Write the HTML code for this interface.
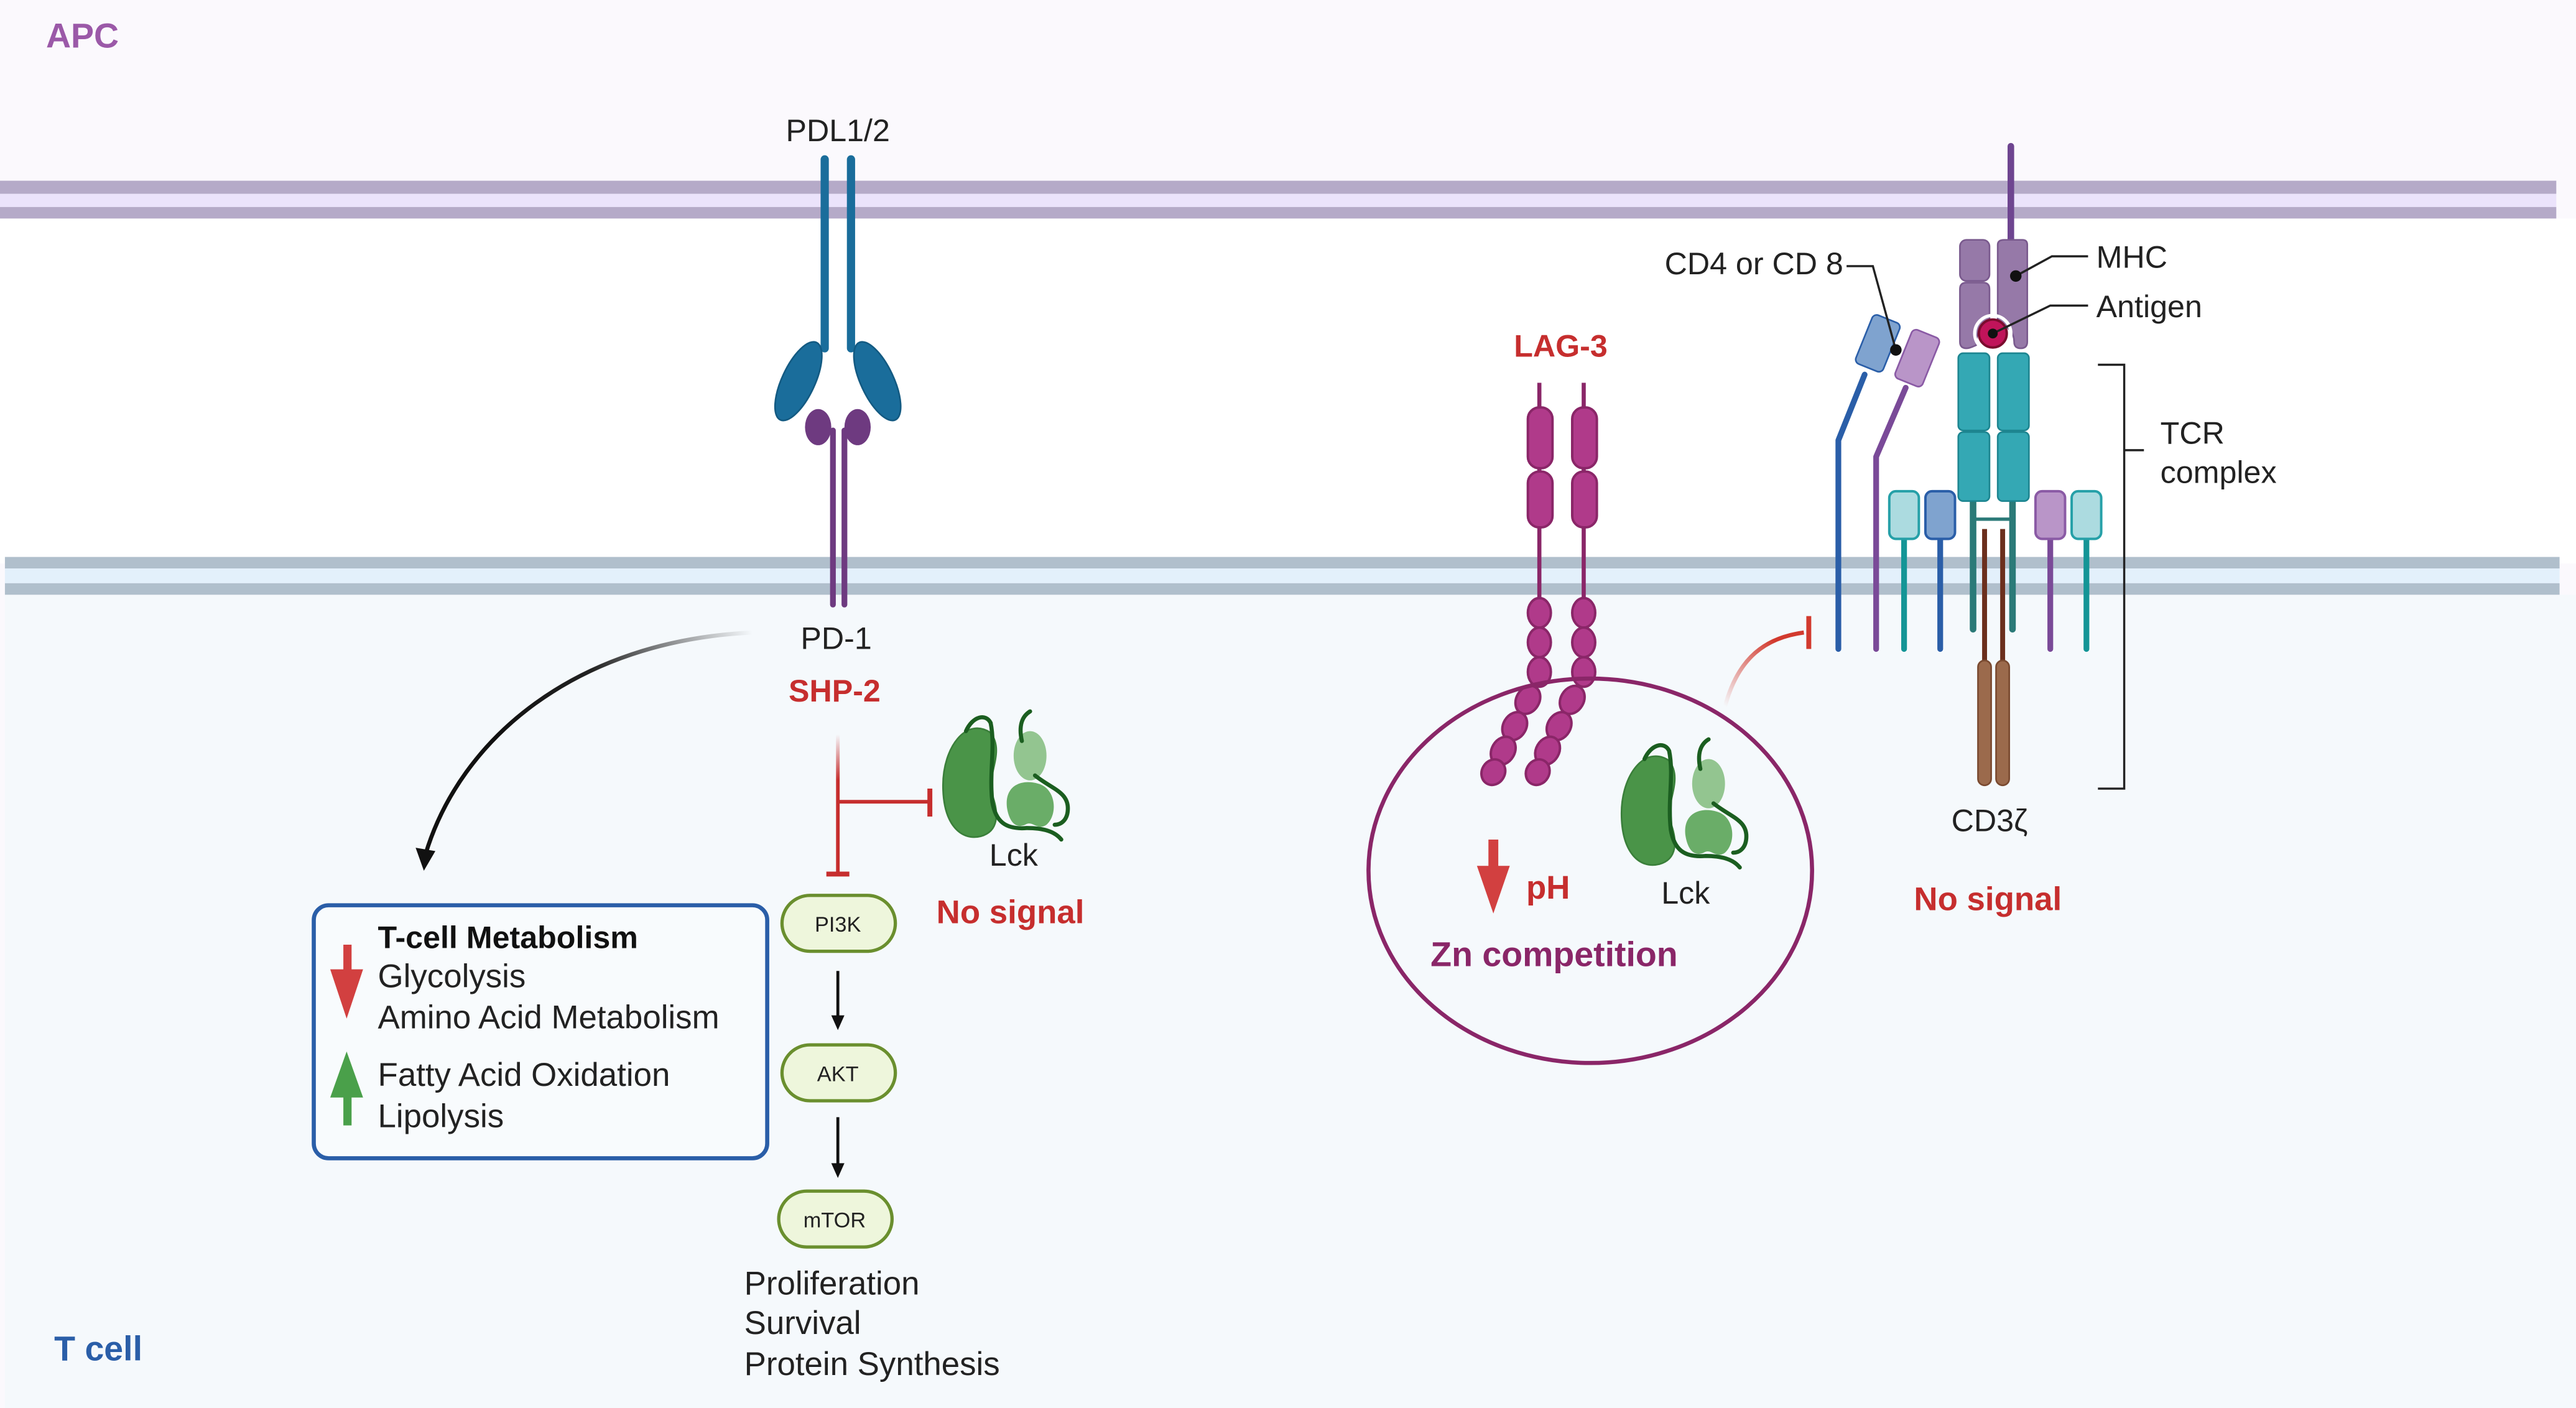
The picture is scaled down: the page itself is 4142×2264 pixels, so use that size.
<!DOCTYPE html>
<html><head><meta charset="utf-8"><style>
html,body{margin:0;padding:0;background:#fff}
svg{display:block}
text{font-family:"Liberation Sans",Arial,sans-serif}
</style></head><body>
<svg width="4142" height="2264" viewBox="0 0 1568 857" preserveAspectRatio="none" xmlns="http://www.w3.org/2000/svg">
<defs>
<linearGradient id="g1" gradientUnits="userSpaceOnUse" x1="458" y1="385" x2="300" y2="440"><stop offset="0" stop-color="#222" stop-opacity="0"/><stop offset="0.6" stop-color="#222"/><stop offset="1" stop-color="#111"/></linearGradient>
<linearGradient id="g2" gradientUnits="userSpaceOnUse" x1="0" y1="447" x2="0" y2="475"><stop offset="0" stop-color="#c62e2e" stop-opacity="0"/><stop offset="1" stop-color="#c62e2e"/></linearGradient>
<linearGradient id="g3" gradientUnits="userSpaceOnUse" x1="1050" y1="430" x2="1080" y2="390"><stop offset="0" stop-color="#d23a2e" stop-opacity="0"/><stop offset="1" stop-color="#d23a2e"/></linearGradient>
<g id="lck">
<path d="M603,446 C588,436 574,455 574,478 C574,502 585,512 597,509 C608,506 608,495 604,484 C600,472 612,458 603,446Z" fill="#4a9448" stroke="#3a7f3a" stroke-width="1"/>
<ellipse cx="627" cy="460" rx="10" ry="15" fill="#93c590"/>
<path d="M613,492 C611,478 622,474 632,477 C643,480 644,496 637,502 C631,506 629,499 624,502 C617,505 614,498 613,492Z" fill="#6aad68"/>
<path d="M588,445 C592,436 600,434 603,440 C606,455 602,470 604,488 C606,500 612,505 625,504 C635,504 642,506 646,511" fill="none" stroke="#1b5e20" stroke-width="2.5" stroke-linecap="round"/>
<path d="M622,451 C620,442 622,436 627,433" fill="none" stroke="#1b5e20" stroke-width="2.5" stroke-linecap="round"/>
<path d="M630,472 C640,480 650,482 650,492 C650,499 646,502 642,502" fill="none" stroke="#1b5e20" stroke-width="2.5" stroke-linecap="round"/>
</g>
</defs>
<rect x="0" y="0" width="1568" height="857" fill="#fbf9fd"/>
<rect x="0" y="133" width="1568" height="210" fill="#ffffff"/>
<rect x="3" y="362" width="1565" height="495" fill="#f5f9fc"/>
<rect x="0" y="110" width="1556" height="8" fill="#b5aac8"/>
<rect x="0" y="118" width="1556" height="8" fill="#ebe3fb"/>
<rect x="0" y="126" width="1556" height="7" fill="#b5aac8"/>
<rect x="3" y="339" width="1555" height="7" fill="#b0bfcc"/>
<rect x="3" y="346" width="1555" height="9" fill="#e3f0fb"/>
<rect x="3" y="355" width="1555" height="7" fill="#b0bfcc"/>

<text x="28" y="29" font-size="21" font-weight="bold" fill="#9b59a8">APC</text>
<text x="33" y="828" font-size="21" font-weight="bold" fill="#2a5ea8">T cell</text>

<text x="510" y="86" font-size="19" text-anchor="middle" fill="#222">PDL1/2</text>
<line x1="502" y1="97" x2="502" y2="212" stroke="#1a6d9b" stroke-width="5" stroke-linecap="round"/>
<line x1="518" y1="97" x2="518" y2="212" stroke="#1a6d9b" stroke-width="5" stroke-linecap="round"/>
<ellipse cx="486" cy="232" rx="10" ry="26" fill="#1a6d9b" stroke="#135a82" transform="rotate(25 486 232)"/>
<ellipse cx="534" cy="232" rx="10" ry="26" fill="#1a6d9b" stroke="#135a82" transform="rotate(-25 534 232)"/>
<ellipse cx="498" cy="260" rx="8" ry="11" fill="#6e3a80"/>
<ellipse cx="522" cy="260" rx="8" ry="11" fill="#6e3a80"/>
<line x1="507" y1="262" x2="507" y2="368" stroke="#6e3a80" stroke-width="3.5" stroke-linecap="round"/>
<line x1="514" y1="262" x2="514" y2="368" stroke="#6e3a80" stroke-width="3.5" stroke-linecap="round"/>
<text x="509" y="395" font-size="19" text-anchor="middle" fill="#222">PD-1</text>
<text x="508" y="427" font-size="19" font-weight="bold" text-anchor="middle" fill="#c62e2e">SHP-2</text>

<path d="M458,385 C350,390 280,450 259,520" fill="none" stroke="url(#g1)" stroke-width="2.5"/>
<path d="M253,516 L258,530 L265,518 Z" fill="#111"/>

<line x1="510" y1="447" x2="510" y2="532" stroke="url(#g2)" stroke-width="2.2"/>
<line x1="503" y1="532" x2="517" y2="532" stroke="#c62e2e" stroke-width="3"/>
<line x1="510" y1="488" x2="566" y2="488" stroke="#c62e2e" stroke-width="2.2"/>
<line x1="566" y1="480" x2="566" y2="497" stroke="#c62e2e" stroke-width="3"/>
<use href="#lck"/>
<text x="617" y="527" font-size="19" text-anchor="middle" fill="#222">Lck</text>
<text x="615" y="562" font-size="20" font-weight="bold" text-anchor="middle" fill="#c62e2e">No signal</text>

<rect x="476" y="545" width="69" height="34" rx="17" fill="#eef6dc" stroke="#6a8f2e" stroke-width="2"/>
<text x="510" y="567" font-size="13" text-anchor="middle" fill="#222">PI3K</text>
<line x1="510" y1="591" x2="510" y2="620" stroke="#111" stroke-width="1.8"/>
<path d="M506,618 L510,627 L514,618Z" fill="#111"/>
<rect x="476" y="636" width="69" height="34" rx="17" fill="#eef6dc" stroke="#6a8f2e" stroke-width="2"/>
<text x="510" y="658" font-size="13" text-anchor="middle" fill="#222">AKT</text>
<line x1="510" y1="680" x2="510" y2="710" stroke="#111" stroke-width="1.8"/>
<path d="M506,708 L510,717 L514,708Z" fill="#111"/>
<rect x="474" y="725" width="69" height="34" rx="17" fill="#eef6dc" stroke="#6a8f2e" stroke-width="2"/>
<text x="508" y="747" font-size="13" text-anchor="middle" fill="#222">mTOR</text>
<text x="453" y="788" font-size="20" fill="#222">Proliferation</text>
<text x="453" y="812" font-size="20" fill="#222">Survival</text>
<text x="453" y="837" font-size="20" fill="#222">Protein Synthesis</text>

<rect x="191" y="551" width="276" height="154" rx="9" fill="#f8fbfd" stroke="#2a5ea8" stroke-width="2.5"/>
<text x="230" y="577" font-size="19" font-weight="bold" fill="#111">T-cell Metabolism</text>
<text x="230" y="601" font-size="20" fill="#222">Glycolysis</text>
<text x="230" y="626" font-size="20" fill="#222">Amino Acid Metabolism</text>
<text x="230" y="661" font-size="20" fill="#222">Fatty Acid Oxidation</text>
<text x="230" y="686" font-size="20" fill="#222">Lipolysis</text>
<path d="M209,575 L214,575 L214,590 L221,590 L211,620 L201,590 L209,590Z" fill="#d24040"/>
<path d="M211,640 L221,668 L214,668 L214,685 L209,685 L209,668 L201,668Z" fill="#4aa04a"/>

<text x="950" y="217" font-size="19" font-weight="bold" text-anchor="middle" fill="#c62e2e">LAG-3</text>
<g stroke="#8a2668" stroke-width="1.5" fill="#b03a8a">
<line x1="937" y1="233" x2="937" y2="370" stroke-width="2.5"/>
<line x1="964" y1="233" x2="964" y2="370" stroke-width="2.5"/>
<rect x="930" y="248" width="15" height="37" rx="7"/>
<rect x="930" y="287" width="15" height="34" rx="7"/>
<rect x="957" y="248" width="15" height="37" rx="7"/>
<rect x="957" y="287" width="15" height="34" rx="7"/>
<ellipse cx="937" cy="373" rx="7" ry="9"/><ellipse cx="937" cy="391" rx="7" ry="9"/><ellipse cx="937" cy="409" rx="7" ry="9"/>
<ellipse cx="930" cy="426" rx="7" ry="9" transform="rotate(30 930 426)"/><ellipse cx="922" cy="442" rx="7" ry="9" transform="rotate(30 922 442)"/><ellipse cx="915" cy="457" rx="7" ry="9" transform="rotate(30 915 457)"/><ellipse cx="909" cy="470" rx="7" ry="8" transform="rotate(30 909 470)"/>
<ellipse cx="964" cy="373" rx="7" ry="9"/><ellipse cx="964" cy="391" rx="7" ry="9"/><ellipse cx="964" cy="409" rx="7" ry="9"/>
<ellipse cx="957" cy="426" rx="7" ry="9" transform="rotate(30 957 426)"/><ellipse cx="949" cy="442" rx="7" ry="9" transform="rotate(30 949 442)"/><ellipse cx="942" cy="457" rx="7" ry="9" transform="rotate(30 942 457)"/><ellipse cx="936" cy="470" rx="7" ry="8" transform="rotate(30 936 470)"/>
</g>
<ellipse cx="968" cy="530" rx="135" ry="117" fill="none" stroke="#8a2668" stroke-width="2.5"/>
<path d="M906,511 L912,511 L912,527 L919,527 L909,556 L899,527 L906,527Z" fill="#d24040"/>
<text x="929" y="547" font-size="20" font-weight="bold" fill="#c62e2e">pH</text>
<use href="#lck" transform="translate(413,17)"/>
<text x="1026" y="550" font-size="19" text-anchor="middle" fill="#222">Lck</text>
<text x="946" y="588" font-size="21" font-weight="bold" text-anchor="middle" fill="#8a2668">Zn competition</text>
<path d="M1050,430 C1058,400 1075,388 1098,385" fill="none" stroke="url(#g3)" stroke-width="2.5"/>
<line x1="1101" y1="375" x2="1101" y2="395" stroke="#d23a2e" stroke-width="3"/>

<line x1="1224" y1="89" x2="1224" y2="148" stroke="#6e4590" stroke-width="4" stroke-linecap="round"/>
<rect x="1193" y="146" width="18" height="25" rx="4" fill="#9679a8" stroke="#7a5a8e"/>
<path d="M1193,176 Q1193,172 1197,172 L1207,172 Q1211,172 1211,176 L1211,196 Q1203,200 1203,208 L1203,210 Q1199,212 1197,212 Q1193,212 1193,208Z" fill="#9679a8" stroke="#7a5a8e"/>
<path d="M1216,149 Q1216,146 1220,146 L1231,146 Q1234,146 1234,149 L1234,208 Q1234,212 1230,212 Q1226,212 1226,208 Q1226,200 1216,196Z" fill="#9679a8" stroke="#7a5a8e"/>
<circle cx="1213" cy="203" r="8.5" fill="#c0145a" stroke="#7a0c2e" stroke-width="1.5"/>
<circle cx="1213" cy="203" r="11" fill="none" stroke="#fff" stroke-width="2"/>
<line x1="1201" y1="300" x2="1201" y2="383" stroke="#2b7a78" stroke-width="4" stroke-linecap="round"/>
<line x1="1225" y1="300" x2="1225" y2="383" stroke="#2b7a78" stroke-width="4" stroke-linecap="round"/>
<line x1="1201" y1="316" x2="1225" y2="316" stroke="#2b7a78" stroke-width="2"/>
<rect x="1192" y="215" width="19" height="47" rx="3" fill="#34a8b4" stroke="#1d8590"/>
<rect x="1216" y="215" width="19" height="47" rx="3" fill="#34a8b4" stroke="#1d8590"/>
<rect x="1192" y="263" width="19" height="42" rx="3" fill="#34a8b4" stroke="#1d8590"/>
<rect x="1216" y="263" width="19" height="42" rx="3" fill="#34a8b4" stroke="#1d8590"/>
<line x1="1208" y1="322" x2="1208" y2="405" stroke="#6b2f1d" stroke-width="3"/>
<line x1="1219" y1="322" x2="1219" y2="405" stroke="#6b2f1d" stroke-width="3"/>
<rect x="1204" y="402" width="8" height="76" rx="4" fill="#9b6a4c" stroke="#7a4a30"/>
<rect x="1215" y="402" width="8" height="76" rx="4" fill="#9b6a4c" stroke="#7a4a30"/>
<g stroke-width="3.5" stroke-linecap="round">
<line x1="1159" y1="326" x2="1159" y2="395" stroke="#149596"/>
<line x1="1181" y1="326" x2="1181" y2="395" stroke="#2a5ea8"/>
<line x1="1248" y1="326" x2="1248" y2="395" stroke="#7a4a98"/>
<line x1="1270" y1="326" x2="1270" y2="395" stroke="#149596"/>
</g>
<rect x="1150" y="299" width="18" height="29" rx="4" fill="#acdbe0" stroke="#26a0a8" stroke-width="1.5"/>
<rect x="1172" y="299" width="18" height="29" rx="4" fill="#7fa3cf" stroke="#2a5ea8" stroke-width="1.5"/>
<rect x="1239" y="299" width="18" height="29" rx="4" fill="#b995c8" stroke="#8a5aa5" stroke-width="1.5"/>
<rect x="1261" y="299" width="18" height="29" rx="4" fill="#acdbe0" stroke="#26a0a8" stroke-width="1.5"/>
<path d="M1119,395 L1119,268 L1135,228" fill="none" stroke="#2a5ea8" stroke-width="3.5" stroke-linecap="round" stroke-linejoin="round"/>
<path d="M1142,395 L1142,278 L1160,236" fill="none" stroke="#7a4a98" stroke-width="3.5" stroke-linecap="round" stroke-linejoin="round"/>
<rect x="-9" y="-16" width="18" height="32" rx="3" fill="#7fa3cf" stroke="#2a5ea8" transform="translate(1143,209) rotate(22)"/>
<rect x="-9" y="-16" width="18" height="32" rx="3" fill="#b995c8" stroke="#8a5aa5" transform="translate(1167,218) rotate(22)"/>
<g stroke="#222" stroke-width="1.3" fill="none">
<path d="M1124,162 L1140,162 L1154,213"/>
<path d="M1227,168 L1249,156 L1271,156"/>
<path d="M1213,203 L1248,186 L1271,186"/>
<path d="M1277,222 L1293,222 L1293,480 L1277,480"/>
<path d="M1293,274 L1305,274"/>
</g>
<circle cx="1154" cy="213" r="3.5" fill="#111"/>
<circle cx="1227" cy="168" r="3.5" fill="#111"/>
<circle cx="1213" cy="203" r="3" fill="#111"/>
<text x="1122" y="167" font-size="19" text-anchor="end" fill="#222">CD4 or CD 8</text>
<text x="1276" y="163" font-size="19" fill="#222">MHC</text>
<text x="1276" y="193" font-size="19" fill="#222">Antigen</text>
<text x="1315" y="270" font-size="19" fill="#222">TCR</text>
<text x="1315" y="294" font-size="19" fill="#222">complex</text>
<text x="1211" y="506" font-size="19" text-anchor="middle" fill="#222">CD3ζ</text>
<text x="1210" y="554" font-size="20" font-weight="bold" text-anchor="middle" fill="#c62e2e">No signal</text>
</svg>
</body></html>
